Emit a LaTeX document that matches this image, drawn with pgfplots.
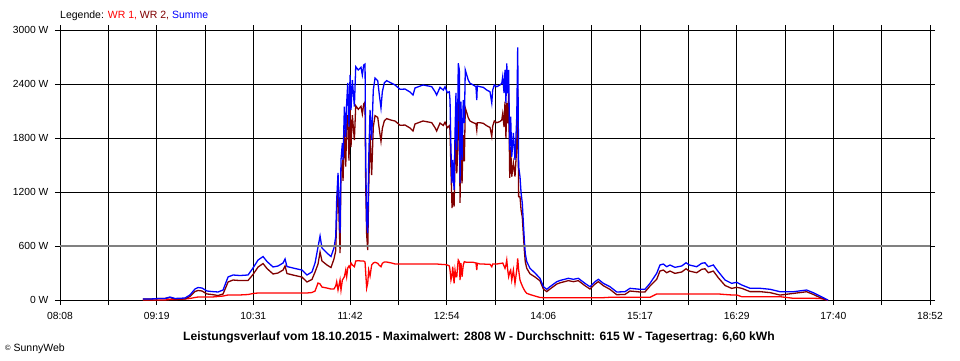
\documentclass[border=0pt]{standalone}
\usepackage{pgfplots}
\pgfplotsset{compat=1.18}
\usepackage{pgfplotstable}
\usepackage{fontspec}
\setmainfont{Liberation Sans}
\definecolor{wrone}{RGB}{255,0,0}
\definecolor{wrtwo}{RGB}{128,0,0}
\definecolor{summe}{RGB}{0,0,255}
\definecolor{refgray}{RGB}{128,128,128}

% t = minutes after midnight; values in W
\pgfplotstableread{
t wr1 wr2 sum
549.4 0 11 11
554.6 0 11 11
562.0 0 17 17
565.7 0 17 17
569.4 6 27 33
573.1 6 11 17
580.5 11 11 22
584.2 17 39 56
587.9 28 94 122
590.2 33 106 139
593.1 33 100 133
596.8 33 67 100
600.5 33 61 94
605.0 39 50 89
608.7 44 67 111
612.4 56 200 256
616.1 56 222 278
621.2 56 216 272
627.2 61 217 278
630.9 72 284 356
634.6 78 366 444
638.3 78 405 483
641.2 78 350 428
645.7 78 289 367
649.4 78 300 378
653.1 78 333 411
654.6 78 378 456
656.0 78 294 372
662.0 78 272 350
667.1 78 255 333
670.8 78 200 278
674.5 83 228 311
676.8 100 311 411
679.0 189 400 589
680.5 178 533 711
681.9 144 434 578
685.6 133 389 522
688.6 122 361 483
690.8 122 456 578
692.1 156 547 703
692.8 203 908 1111
693.8 111 1300 1411
695.3 222 522 744
696.0 111 1445 1556
697.0 222 1522 1744
697.5 233 1323 1556
698.5 259 1889 2148
699.5 333 1481 1814
700.2 259 1930 2189
701.0 356 2055 2411
701.9 378 1548 1926
702.7 356 2144 2500
703.4 411 1700 2111
704.4 389 2055 2444
705.9 370 1778 2148
706.9 433 2159 2592
708.8 437 2119 2556
710.8 433 2152 2585
711.8 433 2067 2500
712.8 433 2178 2611
713.8 422 2200 2622
714.3 300 1256 1556
715.0 133 723 856
715.8 189 555 744
716.5 333 1223 1556
717.5 267 1844 2111
718.7 389 1389 1778
719.9 411 1922 2333
721.2 419 2048 2467
723.2 408 2029 2437
724.1 389 1925 2314
725.6 370 1763 2133
726.6 408 1906 2314
728.1 422 1992 2414
729.8 422 2015 2437
733.5 411 1997 2408
736.0 400 1989 2389
739.7 400 1941 2341
743.4 400 1944 2344
747.1 400 1911 2311
749.3 400 1878 2278
750.8 400 1956 2356
756.7 400 1989 2389
760.6 400 1978 2378
763.2 400 1970 2370
765.6 400 1914 2314
766.8 400 1878 2278
769.3 397 1966 2363
771.7 394 1939 2333
773.0 394 1976 2370
774.7 389 1914 2303
776.2 378 1936 2314
776.7 333 1889 2222
777.4 222 1445 1667
778.2 278 1022 1300
778.7 370 1186 1556
779.7 185 1037 1222
780.4 333 1523 1856
781.1 259 2041 2300
781.7 259 1408 1667
782.4 389 1648 2037
782.8 444 2186 2630
783.6 422 2134 2556
784.1 222 1078 1300
784.8 408 1795 2203
785.6 259 1297 1556
786.5 389 1833 2222
787.3 426 1541 1967
788.0 422 2134 2556
789.1 419 2081 2500
790.2 419 2025 2444
791.5 419 1989 2408
793.9 419 1970 2389
795.9 411 1959 2370
796.5 333 1889 2222
796.9 408 1970 2378
798.9 400 1970 2370
801.3 400 1963 2363
803.9 397 1936 2333
806.3 397 1917 2314
807.6 370 1819 2189
808.3 400 1933 2333
809.5 400 1989 2389
811.3 400 1970 2370
813.7 406 1983 2389
815.0 408 2000 2408
815.7 411 2070 2481
816.7 378 1922 2300
817.4 352 2204 2556
818.1 389 1800 2189
818.7 444 2186 2630
819.4 333 1963 2296
820.1 259 2297 2556
820.9 311 1356 1667
821.6 333 1704 2037
822.4 222 1370 1592
823.6 333 1523 1856
824.8 185 1371 1556
826.1 333 1704 2037
826.8 463 2345 2808
827.5 333 1148 1481
828.5 222 1148 1370
829.3 189 1000 1189
830.2 156 922 1078
831.0 130 726 856
831.7 111 556 667
832.4 94 425 519
833.5 74 352 426
835.9 61 291 352
839.6 44 256 300
843.3 28 213 241
845.8 26 122 148
848.3 26 93 119
850.7 26 122 148
855.7 26 177 203
858.1 26 191 217
864.3 26 215 241
868.0 26 204 230
871.7 26 215 241
876.6 26 159 185
880.3 26 122 148
884.0 26 177 203
886.5 26 204 230
890.2 26 159 185
895.1 30 118 148
900.1 30 59 89
906.2 30 62 92
909.9 30 100 130
917.3 30 89 119
921.0 30 89 119
924.7 30 155 185
929.7 67 230 297
932.1 67 322 389
934.6 67 333 400
937.1 67 303 370
939.5 67 322 389
943.2 67 296 363
948.2 67 311 378
951.4 67 347 414
953.8 67 322 389
959.3 67 303 370
963.0 67 341 408
965.4 67 347 414
967.9 67 303 370
971.6 67 322 389
975.3 67 247 314
980.3 61 161 222
985.2 56 129 185
988.9 56 141 197
992.6 37 130 167
998.8 37 93 130
1006.2 37 93 130
1013.6 37 82 119
1021.0 37 55 92
1030.8 19 73 92
1040.7 19 92 111
1045.6 19 62 81
1050.6 17 27 44
1055.5 2 4 6
1056.5 0 0 0
}\leistung

\begin{document}
\begin{tikzpicture}[x=1pt,y=1pt]
\useasboundingbox (0,0) rectangle (960,360);
\begin{axis}[
  at={(60pt,60pt)}, anchor=south west,
  scale only axis, width=870pt, height=270pt,
  xmin=488, xmax=1132, ymin=0, ymax=3000,
  xtick={488,523.778,559.556,595.333,631.111,666.889,702.667,738.444,774.222,810,845.778,881.556,917.333,953.111,988.889,1024.667,1060.444,1096.222,1132},
  xticklabels={08:08,,09:19,,10:31,,11:42,,12:54,,14:06,,15:17,,16:29,,17:40,,18:52},
  ytick={0,600,1200,1800,2400,3000},
  yticklabels={0 W,600 W,1200 W,1800 W,2400 W,3000 W},
  tick align=outside, major tick length=5pt,
  tick style={black, line width=1pt},
  grid=major, major grid style={black, line width=1pt},
  axis line style={black, line width=1pt},
  ticklabel style={font=\fontsize{10.3}{12}\selectfont},
  xticklabel style={yshift=-4pt},
  yticklabel style={xshift=-3pt},
  clip=true,
]
\addplot[wrone, line width=1.3pt] table[x=t, y=wr1] {\leistung};
\addplot[wrtwo, line width=1.3pt] table[x=t, y=wr2] {\leistung};
\addplot[summe, line width=1.3pt] table[x=t, y=sum] {\leistung};
\addplot[refgray, line width=2pt, forget plot] coordinates {(488,600) (1132,600)};
\end{axis}
\node[anchor=west, inner sep=0pt, font=\fontsize{10.5}{12}\selectfont] at (60,344)
  {Legende: \textcolor{wrone}{WR 1,} \textcolor{wrtwo}{WR 2,} \textcolor{summe}{Summe}};
\node[inner sep=0pt, font=\fontsize{12.1}{14}\selectfont\bfseries] at (479,23)
  {Leistungsverlauf vom 18.10.2015 - Maximalwert: 2808 W - Durchschnitt: 615 W - Tagesertrag: 6,60 kWh};
\node[anchor=west, inner sep=0pt, font=\fontsize{10.5}{12}\selectfont] at (5,11)
  {{\fontsize{7.5}{9}\selectfont\raisebox{1pt}{\textcopyright}} SunnyWeb};
\end{tikzpicture}
\end{document}
